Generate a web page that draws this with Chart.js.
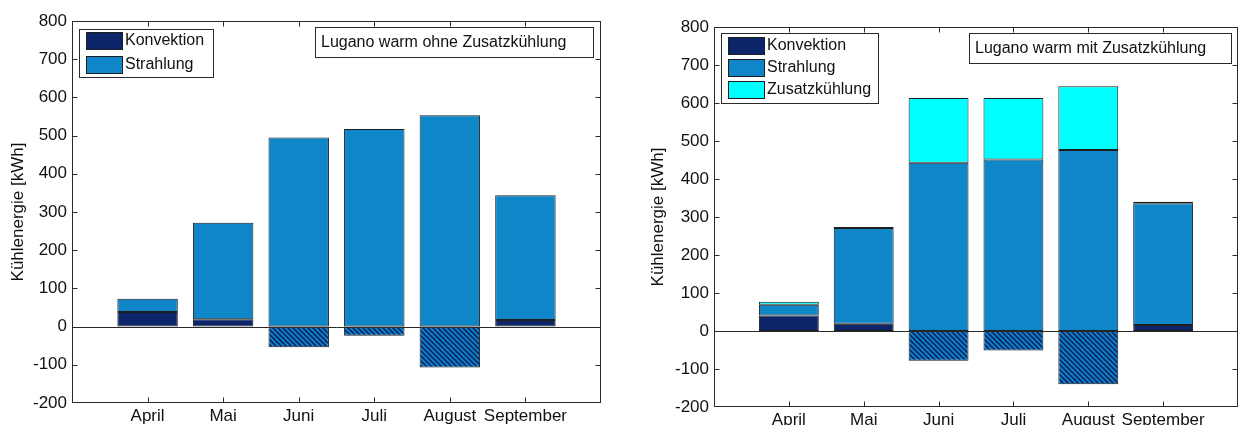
<!DOCTYPE html>
<html lang="de">
<head>
<meta charset="utf-8">
<title>Kühlenergie Lugano warm</title>
<script src="https://cdn.jsdelivr.net/npm/chart.js@4.4.1/dist/chart.umd.min.js"></script>
<style>
  body { margin: 0; background: #fff; }
  .chartBox { position: absolute; top: 0; height: 425px; }
  #boxOhne { left: 0; width: 620px; }
  #boxMit { left: 620px; width: 621px; }
</style>
</head>
<body>
<div class="chartBox" id="boxOhne"><canvas id="chartOhne" width="620" height="425"></canvas></div>
<div class="chartBox" id="boxMit"><canvas id="chartMit" width="621" height="425"></canvas></div>
<script>
const months = ['April', 'Mai', 'Juni', 'Juli', 'August', 'September'];

// ohne Zusatzkühlung [kWh]
const konvektionOhne = [38, 19, -54, -24, -107, 17];
const strahlungOhne = [35, 253, 495, 517, 553, 327];

// mit Zusatzkühlung [kWh]
const konvektionMit = [41, 19, -78, -51, -140, 16];
const strahlungMit = [28, 252, 443, 451, 476, 320];
const zusatzMit = [8, 3, 170, 162, 168, 4];

const yMin = -200;
const yMax = 800;
const yStep = 100;

const fontFamily = '"Liberation Sans", Arial, sans-serif';
const colors = {
  konvektion: '#0c2468',
  strahlung: '#0e86c8',
  zusatz: '#00ffff',
  edge: '#1e1e1e',
  axis: '#2a2a2a',
  text: '#111111'
};

function toPoints(values) {
  return values.map((v, i) => ({ x: i + 1, y: v }));
}

// striped fill for the negative Konvektion part
function makeHatch(ctx) {
  const size = 5;
  const c = document.createElement('canvas');
  c.width = size;
  c.height = size;
  const g = c.getContext('2d');
  g.fillStyle = colors.strahlung;
  g.fillRect(0, 0, size, size);
  g.strokeStyle = colors.konvektion;
  g.lineWidth = 1.6;
  g.beginPath();
  g.moveTo(-1, -1); g.lineTo(size + 1, size + 1);
  g.moveTo(-1, size - 1); g.lineTo(1, size + 1);
  g.moveTo(size - 1, -1); g.lineTo(size + 1, 1);
  g.stroke();
  return ctx.createPattern(c, 'repeat');
}

function barSet(label, values, color, hatch) {
  return {
    label: label,
    data: toPoints(values),
    swatch: color,
    backgroundColor: (c) => (hatch && c.raw && c.raw.y < 0) ? hatch : color,
    borderColor: colors.edge,
    borderWidth: 1,
    borderSkipped: false,
    barPercentage: 0.8,
    categoryPercentage: 1
  };
}

function px(v) {
  return Math.round(v) + 0.5;
}

function clamp(v, lo, hi) {
  return Math.min(hi, Math.max(lo, v));
}

// box frame, inward ticks, zero line, legend box and title box
const axesFrame = {
  id: 'axesFrame',
  afterDatasetsDraw(chart, args, opts) {
    const { ctx, chartArea: a, scales } = chart;
    const left = px(a.left), right = px(a.right) - 1, top = px(a.top), bottom = px(a.bottom) - 1;
    ctx.save();
    ctx.strokeStyle = colors.axis;
    ctx.lineWidth = 1;

    const y0 = px(scales.y.getPixelForValue(0));
    ctx.beginPath();
    ctx.moveTo(left, y0); ctx.lineTo(right, y0);
    ctx.stroke();

    ctx.strokeRect(left, top, right - left, bottom - top);

    ctx.beginPath();
    scales.y.ticks.forEach((t) => {
      const y = clamp(px(scales.y.getPixelForValue(t.value)), top, bottom);
      ctx.moveTo(left, y); ctx.lineTo(left + 5, y);
      ctx.moveTo(right, y); ctx.lineTo(right - 5, y);
    });
    scales.x.ticks.forEach((t) => {
      const x = clamp(px(scales.x.getPixelForValue(t.value)), left, right);
      ctx.moveTo(x, bottom); ctx.lineTo(x, bottom - 5);
      ctx.moveTo(x, top); ctx.lineTo(x, top + 5);
    });
    ctx.stroke();

    // legend
    const lg = opts.legend;
    ctx.fillStyle = '#ffffff';
    ctx.fillRect(lg.x, lg.y, lg.w, lg.h);
    ctx.strokeRect(px(lg.x), px(lg.y), Math.round(lg.w), Math.round(lg.h));
    ctx.font = '16px ' + fontFamily;
    ctx.textBaseline = 'middle';
    ctx.textAlign = 'left';
    chart.data.datasets.forEach((ds, i) => {
      const rowTop = Math.round(lg.y + lg.first + i * lg.step);
      const sx = Math.round(lg.x + lg.padX);
      ctx.fillStyle = ds.swatch;
      ctx.fillRect(sx, rowTop, 36, 17);
      ctx.strokeStyle = colors.edge;
      ctx.strokeRect(sx + 0.5, rowTop + 0.5, 36, 17);
      ctx.fillStyle = colors.text;
      ctx.fillText(ds.label, sx + 39, rowTop + 9);
    });

    // title box
    const tb = opts.title;
    ctx.fillStyle = '#ffffff';
    ctx.fillRect(tb.x, tb.y, tb.w, tb.h);
    ctx.strokeStyle = colors.axis;
    ctx.strokeRect(px(tb.x), px(tb.y), tb.w, tb.h);
    ctx.fillStyle = colors.text;
    ctx.fillText(tb.text, tb.x + tb.textX, tb.y + tb.h / 2 + 1);
    ctx.restore();
  }
};

function buildChart(canvasId, datasets, extra) {
  const canvas = document.getElementById(canvasId);
  return new Chart(canvas, {
    type: 'bar',
    data: { datasets: datasets },
    options: {
      responsive: false,
      animation: false,
      devicePixelRatio: 1,
      layout: { padding: { top: extra.padTop, right: extra.padRight, left: 0, bottom: 0 } },
      scales: {
        x: {
          type: 'linear',
          stacked: true,
          offset: false,
          min: 0,
          max: 7,
          grid: { display: false, drawTicks: false },
          border: { display: false },
          ticks: {
            stepSize: 1,
            autoSkip: false,
            maxRotation: 0,
            padding: 3,
            color: colors.text,
            font: { family: fontFamily, size: 17 },
            callback: (v) => months[v - 1] || ''
          },
          afterFit: (s) => { s.height = extra.xHeight; }
        },
        y: {
          stacked: true,
          min: yMin,
          max: yMax,
          grid: { display: false, drawTicks: false },
          border: { display: false },
          ticks: {
            stepSize: yStep,
            padding: 5,
            color: colors.text,
            font: { family: fontFamily, size: 17 }
          },
          title: {
            display: true,
            text: 'Kühlenergie [kWh]',
            color: colors.text,
            font: { family: fontFamily, size: 17 },
            padding: { top: extra.titlePad, bottom: 0 }
          },
          afterFit: (s) => { s.width = extra.yWidth; }
        }
      },
      plugins: {
        legend: { display: false },
        tooltip: { enabled: false },
        axesFrame: { legend: extra.legend, title: extra.title }
      }
    },
    plugins: [axesFrame]
  });
}

const ctxOhne = document.getElementById('chartOhne').getContext('2d');
const ctxMit = document.getElementById('chartMit').getContext('2d');

const chartOhne = buildChart('chartOhne', [
  barSet('Konvektion', konvektionOhne, colors.konvektion, makeHatch(ctxOhne)),
  barSet('Strahlung', strahlungOhne, colors.strahlung)
], {
  padTop: 21, padRight: 19, yWidth: 72, xHeight: 22, titlePad: 8,
  legend: { x: 79, y: 29, w: 134, h: 48, first: 3, step: 23.5, padX: 7 },
  title: { x: 315, y: 27, w: 278, h: 30, textX: 6, text: 'Lugano warm ohne Zusatzkühlung' }
});

const chartMit = buildChart('chartMit', [
  barSet('Konvektion', konvektionMit, colors.konvektion, makeHatch(ctxMit)),
  barSet('Strahlung', strahlungMit, colors.strahlung),
  barSet('Zusatzkühlung', zusatzMit, colors.zusatz)
], {
  padTop: 27, padRight: 1, yWidth: 94, xHeight: 18, titlePad: 28,
  legend: { x: 101, y: 33, w: 157, h: 70, first: 4, step: 22, padX: 7 },
  title: { x: 349, y: 33, w: 262, h: 30, textX: 6, text: 'Lugano warm mit Zusatzkühlung' }
});
</script>
</body>
</html>
